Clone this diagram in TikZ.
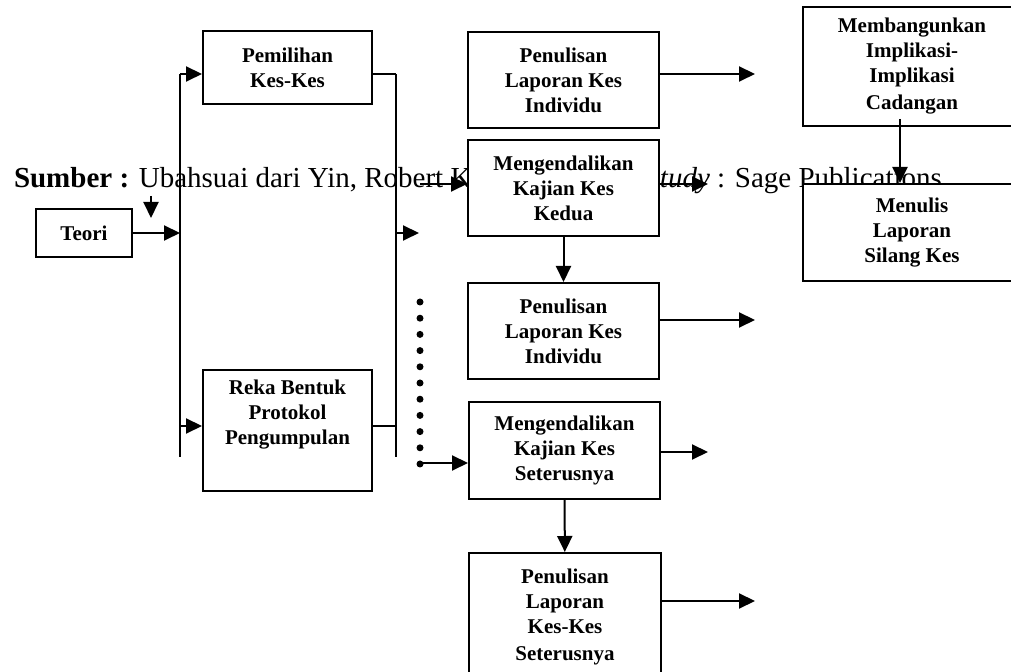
\documentclass[tikz,border=0pt]{standalone}
\usepackage{fontspec}
\setmainfont{Liberation Serif}
\usetikzlibrary{arrows,arrows.meta,positioning}

\begin{document}
\begin{tikzpicture}[x=0.5pt,y=-0.5pt,->,>={Triangle[length=8pt,width=7.5pt]},line width=1pt]
        \tikzstyle{kotak}=[draw, fill=white, align=center, inner sep=2pt,
          font=\bfseries\fontsize{10.5}{12.5}\selectfont]
        \useasboundingbox (0,0) rectangle (1011,672);

        \node[anchor=base west, inner sep=0pt, font=\fontsize{14.5}{16}\selectfont] (sumber) at (13,188)
          {\textbf{Sumber :} Ubahsuai dari Yin, Robert K. (1994). \textit{Case Study} : Sage Publications};

        \node[kotak, minimum width=48pt,   minimum height=24pt]   (teori)   at (84,233)    {Teori};
        \node[kotak, minimum width=84.5pt, minimum height=36.5pt] (pilih)   at (287.5,67.5) {Pemilihan\\Kes-Kes};
        \node[kotak, minimum width=84.5pt, minimum height=60.5pt] (reka)    at (287.5,430.5) {Reka Bentuk\\Protokol\\Pengumpulan\\[6pt]};
        \node[kotak, minimum width=95.5pt, minimum height=48pt]   (tulisA)  at (563.5,80)   {Penulisan\\Laporan Kes\\Individu};
        \node[kotak, minimum width=95.5pt, minimum height=48pt]   (kendaliA) at (563.5,188) {Mengendalikan\\Kajian Kes\\Kedua};
        \node[kotak, minimum width=95.5pt, minimum height=48pt]   (tulisB)  at (563.5,331)  {Penulisan\\Laporan Kes\\Individu};
        \node[kotak, minimum width=95.5pt, minimum height=48.5pt] (kendaliB) at (564.5,450.5) {Mengendalikan\\Kajian Kes\\Seterusnya};
        \node[kotak, minimum width=96pt,   minimum height=64pt]   (tulisC)  at (565,617)    {Penulisan\\Laporan\\Kes-Kes\\[1pt]Seterusnya};
        \node[kotak, minimum width=109pt,  minimum height=59.5pt] (bina)    at (912,66.5)   {Membangunkan\\Implikasi-\\Implikasi\\[1pt]Cadangan};
        \node[kotak, minimum width=109pt,  minimum height=48.5pt] (silang)  at (912,232.5)  {Menulis\\Laporan\\Silang Kes};

        \coordinate (kiriA) at (180,74);
        \coordinate (kiriB) at (180,457);
        \coordinate (kananA) at (396,74);
        \coordinate (kananB) at (396,457);
        \coordinate (titik) at (420,463);

        \draw[-] (kiriA) -- (kiriB);
        \draw[-] (kananA) -- (kananB);
        \draw (teori) -- (teori -| kiriA);
        \draw (kiriA) -- (kiriA -| pilih.west);
        \draw (180,426) -- (180,426 -| reka.west);
        \draw[-] (pilih.east |- kananA) -- (kananA);
        \draw[-] (396,426 -| reka.east) -- (396,426);
        \draw (151,196) -- (151,218);
        \draw (396,233) -- (419,233);
        \draw (420,184) -- (420,184 -| kendaliA.west);
        \foreach \y in {302,318.2,...,467}
          \fill (420,\y) circle (1.75pt);
        \draw (titik) -- (titik -| kendaliB.west);

        \draw (tulisA.east |- 0,74) -- (755,74);
        \draw (kendaliA.east |- 0,184) -- (708,184);
        \draw (kendaliA) -- (tulisB);
        \draw (tulisB.east |- 0,320) -- (755,320);
        \draw (kendaliB.east |- 0,452) -- (708,452);
        \draw (kendaliB) -- (tulisC);
        \draw (tulisC.east |- 0,601) -- (755,601);
        \draw ([xshift=-6pt,yshift=4pt]bina.south) -- ([xshift=-6pt]silang.north);
      \end{tikzpicture}
\end{document}
